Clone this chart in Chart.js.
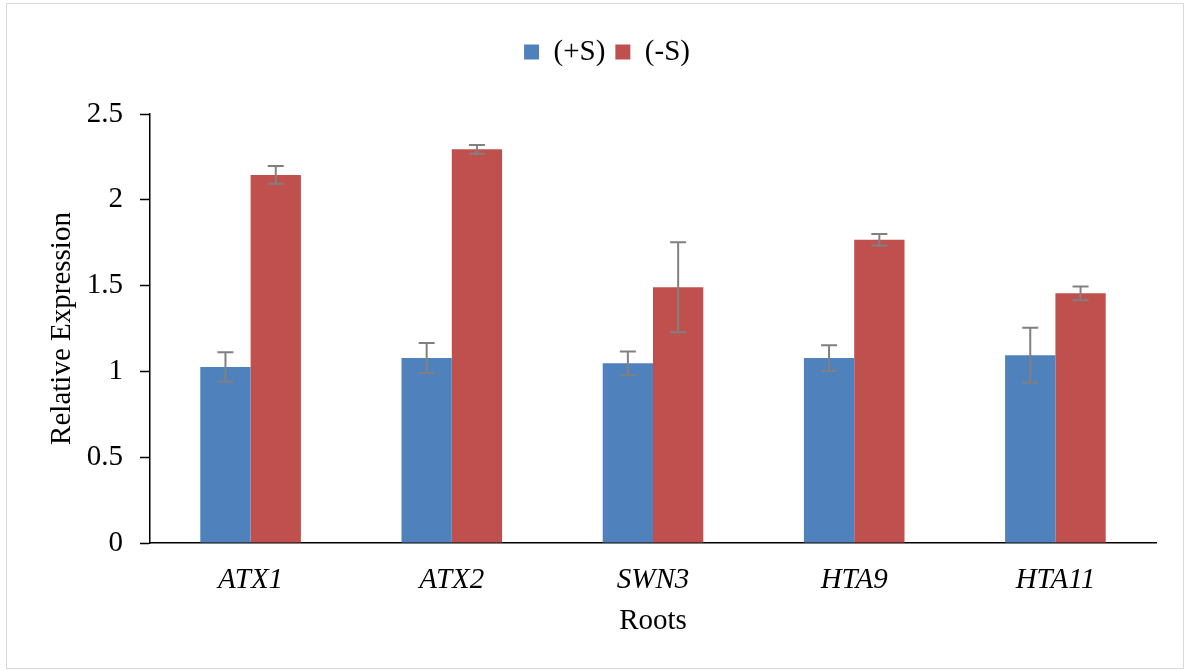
<!DOCTYPE html>
<html>
<head>
<meta charset="utf-8">
<title>Relative Expression in Roots</title>
<script src="https://cdn.jsdelivr.net/npm/chart.js@4/dist/chart.umd.min.js"></script>
<style>
  html, body { margin: 0; padding: 0; background: #fff; }
  #wrap { width: 1189px; height: 671px; }
</style>
</head>
<body>
<div id="wrap"><canvas id="chart" width="1189" height="671"></canvas></div>
<script>
// Genes measured in roots
const genes = ['ATX1', 'ATX2', 'SWN3', 'HTA9', 'HTA11'];

// Mean relative expression per treatment
const plusS  = [1.026, 1.078, 1.047, 1.078, 1.094];
const minusS = [2.145, 2.294, 1.490, 1.767, 1.455];

// Error (± one deviation) per treatment
const plusSErr  = [0.085, 0.087, 0.069, 0.075, 0.160];
const minusSErr = [0.052, 0.025, 0.262, 0.034, 0.040];

// Y axis range and step
const yMin = 0, yMax = 2.5, yStep = 0.5;

const serif = "'Liberation Serif', 'Times New Roman', serif";
const fontSize = 29;
Chart.defaults.color = '#000';
Chart.defaults.font.family = serif;

// White background and thin light frame around the chart
const frame = {
  id: 'frame',
  beforeDraw(chart) {
    const ctx = chart.ctx;
    ctx.save();
    ctx.fillStyle = '#fff';
    ctx.fillRect(0, 0, chart.width, chart.height);
    ctx.strokeStyle = '#d9d9d9';
    ctx.lineWidth = 1;
    ctx.strokeRect(6.5, 3.5, 1177, 665);
    ctx.restore();
  }
};

// Nudge the legend row a little to the right of the canvas centre
const legendShift = {
  id: 'legendShift',
  afterLayout(chart) {
    const lg = chart.legend;
    if (lg) { lg.left += 25; lg.right += 25; }
  }
};

// Error bars with flat caps, drawn through the y scale
const errorBars = {
  id: 'errorBars',
  afterDatasetsDraw(chart) {
    const ctx = chart.ctx;
    const y = chart.scales.y;
    ctx.save();
    ctx.strokeStyle = '#808080';
    ctx.lineWidth = 2;
    chart.data.datasets.forEach((ds, di) => {
      const meta = chart.getDatasetMeta(di);
      meta.data.forEach((bar, i) => {
        const v = ds.data[i];
        const e = ds.errors[i];
        const top = y.getPixelForValue(v + e);
        const bot = y.getPixelForValue(v - e);
        const cx = bar.x;
        const half = 8;
        ctx.beginPath();
        ctx.moveTo(cx, top); ctx.lineTo(cx, bot);
        ctx.moveTo(cx - half, top); ctx.lineTo(cx + half, top);
        ctx.moveTo(cx - half, bot); ctx.lineTo(cx + half, bot);
        ctx.stroke();
      });
    });
    ctx.restore();
  }
};

new Chart(document.getElementById('chart'), {
  type: 'bar',
  data: {
    labels: genes,
    datasets: [
      { label: '(+S)', data: plusS, errors: plusSErr, backgroundColor: '#4F81BD', borderWidth: 0 },
      { label: '(-S)', data: minusS, errors: minusSErr, backgroundColor: '#C0504D', borderWidth: 0 }
    ]
  },
  options: {
    responsive: false,
    animation: false,
    devicePixelRatio: 1,
    categoryPercentage: 0.5,
    barPercentage: 1.0,
    layout: { padding: { left: 8, right: 33, top: 27.5, bottom: 8 } },
    plugins: {
      legend: {
        position: 'top',
        labels: {
          boxWidth: 15,
          boxHeight: 15,
          padding: 10,
          color: '#000',
          font: { family: serif, size: fontSize }
        }
      },
      // empty spacer between the legend row and the plot
      title: {
        display: true,
        text: '',
        position: 'top',
        weight: 500,
        font: { size: 10 },
        padding: { top: 25.5, bottom: 0 }
      },
      tooltip: { enabled: false }
    },
    scales: {
      x: {
        afterFit(scale) { scale.height = 120; },
        grid: { drawOnChartArea: false, drawTicks: false },
        border: { display: true, color: '#000', width: 1.5 },
        ticks: {
          padding: 20,
          color: '#000',
          font: { family: serif, size: fontSize, style: 'italic' }
        },
        title: {
          display: true,
          text: 'Roots',
          color: '#000',
          font: { family: serif, size: fontSize },
          padding: { top: 0, bottom: 24 }
        }
      },
      y: {
        min: yMin,
        max: yMax,
        afterFit(scale) { scale.width = 142; },
        grid: { drawOnChartArea: false, drawTicks: true, tickLength: 10, tickColor: '#000', tickWidth: 1.5 },
        border: { display: true, color: '#000', width: 1.5 },
        ticks: {
          stepSize: yStep,
          padding: 17,
          color: '#000',
          font: { family: serif, size: fontSize },
          callback: (v) => String(v)
        },
        title: {
          display: true,
          text: 'Relative Expression',
          color: '#000',
          font: { family: serif, size: fontSize },
          padding: { top: 37, bottom: 0 }
        }
      }
    }
  },
  plugins: [frame, legendShift, errorBars]
});
</script>
</body>
</html>
